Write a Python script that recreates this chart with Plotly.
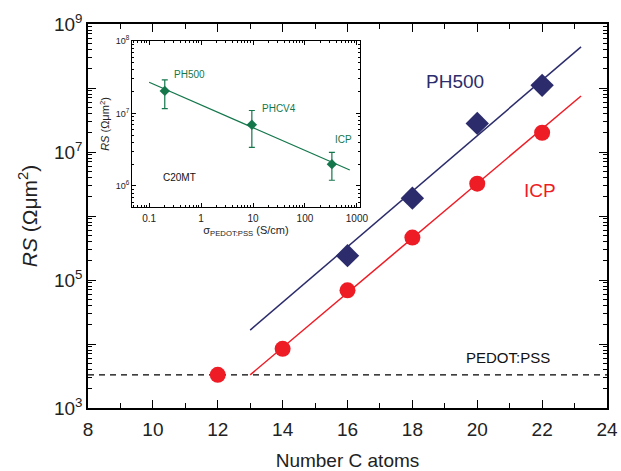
import plotly.graph_objects as go

# ---- main panel data ----
icp_n = [12, 14, 16, 18, 20, 22]
icp_rs = [3.3e3, 8.4e3, 6.9e4, 4.6e5, 3.2e6, 2.0e7]
ph500_n = [16, 18, 20, 22]
ph500_rs = [2.4e5, 1.9e6, 2.8e7, 1.1e8]
icp_fit_n = [13.0, 23.2]
icp_fit_rs = [3.3e3, 7.5e7]
ph500_fit_n = [13.0, 23.2]
ph500_fit_rs = [1.65e4, 4.4e8]
pedot_n = [8, 24]
pedot_rs = [3.3e3, 3.3e3]

# ---- inset data ----
sigma = [0.2, 9.5, 330]
rs_inset = [2.05e7, 7.0e6, 2.0e6]
rs_err_hi = [2.9e7, 1.1e7, 2.9e6]
rs_err_lo = [1.17e7, 3.4e6, 1.2e6]
inset_names = ["PH500", "PHCV4", "ICP"]
inset_fit_sigma = [0.1, 730]
inset_fit_rs = [2.7e7, 1.66e6]

main_ticks = [1e3, 1e4, 1e5, 1e6, 1e7, 1e8, 1e9]
main_ticktext = ["10<sup>3</sup>", "", "10<sup>5</sup>", "", "10<sup>7</sup>", "", "10<sup>9</sup>"]
inset_ticks = [1e6, 1e7, 1e8]
inset_ticktext = ["10<sup>6</sup>", "10<sup>7</sup>", "10<sup>8</sup>"]
inset_xticks = [0.1, 1, 10, 100, 1000]
inset_xticktext = ["0.1", "1", "10", "100", "1000"]

def minors(lo, hi):
    out = []
    for e in range(lo, hi):
        for m in range(2, 10):
            out.append(m * 10 ** e)
    return out

GREEN = "#14774c"
RED = "#ee1c25"
NAVY = "#2c2c6c"
FONT = "Liberation Sans, Arial, sans-serif"

fig = go.Figure()

fig.add_trace(go.Scatter(x=pedot_n, y=pedot_rs, mode="lines",
                         line=dict(color="black", width=1.3, dash="6px,5px"),
                         showlegend=False))
fig.add_trace(go.Scatter(x=ph500_fit_n, y=ph500_fit_rs, mode="lines",
                         line=dict(color=NAVY, width=1.5), showlegend=False))
fig.add_trace(go.Scatter(x=icp_fit_n, y=icp_fit_rs, mode="lines",
                         line=dict(color=RED, width=1.5), showlegend=False))
fig.add_trace(go.Scatter(x=ph500_n, y=ph500_rs, mode="markers",
                         marker=dict(symbol="diamond", size=18, color=NAVY),
                         showlegend=False))
fig.add_trace(go.Scatter(x=icp_n, y=icp_rs, mode="markers",
                         marker=dict(symbol="circle", size=16, color=RED),
                         showlegend=False))

# inset
fig.add_trace(go.Scatter(x=inset_fit_sigma, y=inset_fit_rs, mode="lines",
                         line=dict(color=GREEN, width=1.2), xaxis="x2", yaxis="y2",
                         showlegend=False))
fig.add_trace(go.Scatter(x=sigma, y=rs_inset, mode="markers",
                         marker=dict(symbol="diamond", size=8, color=GREEN),
                         error_y=dict(type="data", symmetric=False,
                                      array=[h - v for h, v in zip(rs_err_hi, rs_inset)],
                                      arrayminus=[v - l for l, v in zip(rs_err_lo, rs_inset)],
                                      color=GREEN, thickness=1.2, width=3),
                         xaxis="x2", yaxis="y2", showlegend=False))

annotations = [
    dict(x=455, y=82, text="PH500", font=dict(size=19, color=NAVY)),
    dict(x=540, y=190, text="ICP", font=dict(size=19, color=RED)),
    dict(x=508, y=357, text="PEDOT:PSS", font=dict(size=15, color="#111")),
    dict(x=189, y=74, text="PH500", font=dict(size=10, color=GREEN)),
    dict(x=279, y=108, text="PHCV4", font=dict(size=10, color=GREEN)),
    dict(x=343, y=139, text="ICP", font=dict(size=10, color=GREEN)),
    dict(x=179, y=177, text="C20MT", font=dict(size=10, color="#111")),
]
W, H = 621, 471
L, R, T, B = 88, 14, 24, 63
ann = []
for a in annotations:
    ann.append(dict(xref="paper", yref="paper",
                    x=(a["x"] - L) / (W - L - R), y=(H - B - a["y"]) / (H - T - B),
                    text=a["text"], font=dict(family=FONT, **a["font"]),
                    showarrow=False, xanchor="center", yanchor="middle"))

axis_common = dict(showline=True, linecolor="black", mirror="ticks", ticks="inside",
                   tickcolor="black", showgrid=False, zeroline=False, automargin=False)

fig.update_layout(
    width=W, height=H,
    margin=dict(l=L, r=R, t=T, b=B),
    paper_bgcolor="white", plot_bgcolor="white",
    font=dict(family=FONT, color="#222"),
    annotations=ann,
    xaxis=dict(range=[8, 24], tickvals=list(range(8, 25, 2)), ticklen=8, tickwidth=1.3,
               linewidth=1.5, tickfont=dict(size=19), ticklabelstandoff=3,
               minor=dict(tickvals=list(range(9, 24, 2)), ticks="inside", ticklen=5,
                          tickcolor="black", tickwidth=1.2),
               title=dict(text="Number C atoms", font=dict(size=19), standoff=18),
               **axis_common),
    yaxis=dict(type="log", range=[3, 9], tickvals=main_ticks, ticktext=main_ticktext,
               ticklen=8, tickwidth=1.3, linewidth=1.5, tickfont=dict(size=19),
               minor=dict(tickvals=minors(3, 9), ticks="inside", ticklen=4,
                          tickcolor="black", tickwidth=1),
               title=dict(text="<i>RS</i> (Ωμm<sup>2</sup>)", font=dict(size=21), standoff=11),
               **axis_common),
    xaxis2=dict(type="log", domain=[(132 - L) / 519, (360 - L) / 519], anchor="y2",
                range=[-1.33, 3.06], tickvals=inset_xticks, ticktext=inset_xticktext,
                ticklen=4, tickwidth=1, linewidth=1, tickfont=dict(size=10),
                ticklabelstandoff=2,
                minor=dict(tickvals=minors(-2, 4), ticks="inside", ticklen=2,
                           tickcolor="black", tickwidth=0.8),
                title=dict(text="σ<sub>PEDOT:PSS</sub> (S/cm)", font=dict(size=11), standoff=1),
                **axis_common),
    yaxis2=dict(type="log", domain=[(408 - 207) / 384, (408 - 41) / 384], anchor="x2",
                range=[5.71, 8], tickvals=inset_ticks, ticktext=inset_ticktext,
                ticklen=4, tickwidth=1, linewidth=1, tickfont=dict(size=9),
                minor=dict(tickvals=minors(5, 8), ticks="inside", ticklen=2,
                           tickcolor="black", tickwidth=0.8),
                title=dict(text="<i>RS</i> (Ωμm<sup>2</sup>)", font=dict(size=11), standoff=3),
                **axis_common),
)

fig.write_html("out.html", config={"displayModeBar": False},
               post_script="document.body.style.margin='0';document.body.style.padding='0';")
